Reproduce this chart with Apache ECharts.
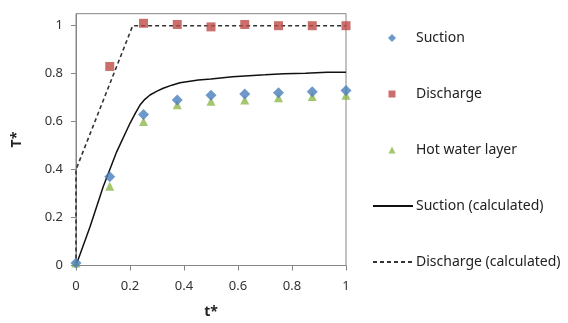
<!DOCTYPE html>
<html><head><meta charset="utf-8">
<script src="https://cdn.jsdelivr.net/npm/echarts@6/dist/echarts.min.js"></script>
<style>html,body{margin:0;padding:0;background:#fff}#c{width:568px;height:323px}</style>
</head><body><div id="c"></div>
<script>
const tStar = [0, 0.125, 0.25, 0.375, 0.5, 0.625, 0.75, 0.875, 1.0];
const suction = [0.01, 0.37, 0.63, 0.69, 0.71, 0.715, 0.72, 0.725, 0.73];
const dischargeX = [0.125, 0.25, 0.375, 0.5, 0.625, 0.75, 0.875, 1.0];
const discharge = [0.83, 1.01, 1.005, 0.995, 1.005, 1.0, 1.0, 1.0];
const hotWater = [0.01, 0.33, 0.60, 0.67, 0.685, 0.69, 0.70, 0.705, 0.71];
const suctionCalcX = [0, 0.052, 0.101, 0.151, 0.2, 0.22, 0.237, 0.255, 0.274, 0.3, 0.323, 0.355, 0.385, 0.453, 0.5, 0.58, 0.7, 0.77, 0.85, 0.93, 1.0];
const suctionCalc = [0, 0.162, 0.329, 0.475, 0.593, 0.635, 0.669, 0.693, 0.711, 0.727, 0.739, 0.752, 0.762, 0.774, 0.778, 0.787, 0.795, 0.80, 0.802, 0.806, 0.806];
const dischargeCalcX = [0, 0, 0.21, 1.0];
const dischargeCalc = [0, 0.4, 1.0, 1.0];
const yTicks = [0, 0.2, 0.4, 0.6, 0.8, 1];
const xTicks = [0, 0.2, 0.4, 0.6, 0.8, 1];

const zip = (xs, ys) => xs.map((x, i) => [x, ys[i]]);
const FONT = 'Noto Sans';
const legendItems = [
  {name: 'Suction', icon: 'diamond', top: 36, kind: 'marker', size: 8},
  {name: 'Discharge', icon: 'rect', top: 92, kind: 'marker', size: 7},
  {name: 'Hot water layer', icon: 'triangle', top: 148, kind: 'marker', size: 7},
  {name: 'Suction (calculated)', top: 204, kind: 'line'},
  {name: 'Discharge (calculated)', top: 260, kind: 'line'}
];

const legends = legendItems.map(it => {
  if (it.kind === 'marker') {
    return {
      data: [{name: it.name, icon: it.icon}], left: 392 - it.size / 2 - 5, top: it.top - 10,
      orient: 'vertical', itemWidth: it.size, itemHeight: it.size, selectedMode: false,
      textStyle: {fontFamily: FONT, fontSize: 14, color: '#222', padding: [0, 0, 0, 411 - (392 + it.size / 2)]}
    };
  }
  return {
    data: [it.name], left: 367, top: it.top - 10,
    orient: 'vertical', itemWidth: 40, itemHeight: 8, selectedMode: false,
    itemStyle: {opacity: 0},
    textStyle: {fontFamily: FONT, fontSize: 14, color: '#222', padding: [0, 0, 0, -2]}
  };
});

const chart = echarts.init(document.getElementById('c'), null, {renderer: 'canvas'});
chart.setOption({
  animation: false,
  grid: {left: 76, right: 222, top: 13.7, bottom: 57.5, show: true, borderColor: '#868686', borderWidth: 1,
    backgroundColor: 'transparent', containLabel: false, outerBoundsMode: 'none'},
  xAxis: {
    type: 'value', min: 0, max: 1, interval: 0.2,
    name: 't*', nameLocation: 'middle', nameGap: 40,
    nameTextStyle: {fontFamily: FONT, fontSize: 14, fontWeight: 'bold', color: '#222'},
    axisLine: {show: true, lineStyle: {color: '#868686'}},
    axisTick: {show: true, length: 5, lineStyle: {color: '#868686'}},
    splitLine: {show: false},
    axisLabel: {fontFamily: FONT, fontSize: 13, color: '#333', margin: 14,
      formatter: v => xTicks.includes(+v.toFixed(2)) ? String(+v.toFixed(2)) : ''}
  },
  yAxis: {
    type: 'value', min: 0, max: 1.05, interval: 0.2,
    name: 'T*', nameLocation: 'middle', nameGap: 52, nameRotate: 90,
    nameTextStyle: {fontFamily: FONT, fontSize: 14, fontWeight: 'bold', color: '#222'},
    axisLine: {show: true, lineStyle: {color: '#868686'}},
    axisTick: {show: true, length: 5, lineStyle: {color: '#868686'}},
    splitLine: {show: false},
    axisLabel: {fontFamily: FONT, fontSize: 13, color: '#333', margin: 13, showMaxLabel: false,
      formatter: v => yTicks.includes(+v.toFixed(2)) ? String(+v.toFixed(2)) : ''}
  },
  legend: legends,
  series: [
    {name: 'Suction (calculated)', type: 'line', data: zip(suctionCalcX, suctionCalc), symbol: 'none',
      lineStyle: {color: '#111', width: 1.5}, itemStyle: {color: '#111'}, z: 1},
    {name: 'Discharge (calculated)', type: 'line', data: zip(dischargeCalcX, dischargeCalc), symbol: 'none',
      lineStyle: {color: '#333', width: 1.6, type: [4, 3]}, itemStyle: {color: '#333'}, z: 1},
    {name: 'Hot water layer', type: 'scatter', data: zip(tStar, hotWater), symbol: 'triangle', symbolSize: 9,
      itemStyle: {color: '#8DB84A'}, z: 3},
    {name: 'Suction', type: 'scatter', data: zip(tStar, suction), symbol: 'diamond', symbolSize: 11,
      itemStyle: {color: '#4A7EBB'}, z: 4},
    {name: 'Discharge', type: 'scatter', data: zip(dischargeX, discharge), symbol: 'rect', symbolSize: 9,
      itemStyle: {color: '#BE4B48'}, z: 4}
  ]
});
</script></body></html>
